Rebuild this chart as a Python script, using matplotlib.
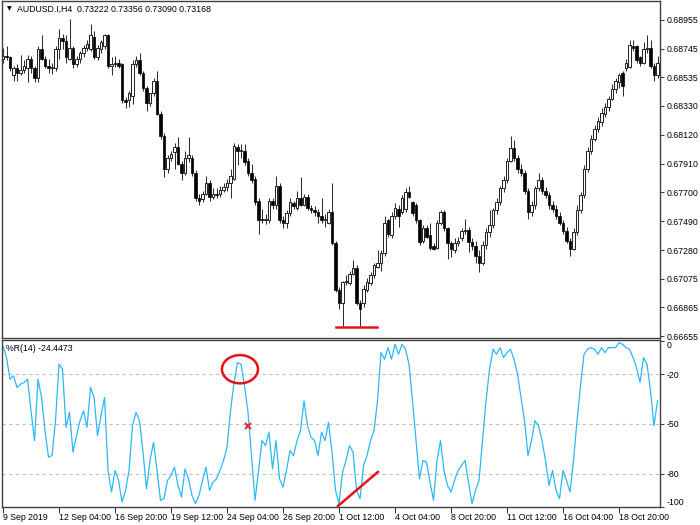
import numpy as np
import matplotlib.pyplot as plt
from matplotlib.patches import Ellipse

plt.rcParams['font.family'] = ['Liberation Sans', 'DejaVu Sans']

# AUDUSD.I H4 bars, prices in 0.0001 units
open_pts = [6867, 6869, 6868, 6855, 6860, 6857, 6859, 6860, 6867, 6860,
            6853, 6874, 6867, 6862, 6860, 6860, 6874, 6882, 6880, 6867,
            6875, 6863, 6867, 6871, 6875, 6874, 6883, 6868, 6874, 6876,
            6884, 6862, 6863, 6864, 6863, 6837, 6837, 6840, 6863, 6866,
            6857, 6846, 6835, 6842, 6851, 6827, 6811, 6787, 6795, 6799,
            6803, 6791, 6784, 6795, 6795, 6784, 6766, 6765, 6769, 6777,
            6767, 6769, 6769, 6772, 6774, 6777, 6780, 6803, 6800, 6800,
            6793, 6784, 6780, 6764, 6751, 6750, 6750, 6764, 6761, 6775,
            6750, 6748, 6755, 6762, 6759, 6766, 6761, 6767, 6759, 6757,
            6756, 6753, 6750, 6748, 6756, 6733, 6699, 6690, 6705, 6704,
            6711, 6715, 6690, 6690, 6699, 6704, 6710, 6716, 6719, 6726,
            6750, 6739, 6753, 6758, 6756, 6758, 6770, 6763, 6761, 6750,
            6735, 6744, 6739, 6731, 6730, 6748, 6756, 6744, 6733, 6728,
            6733, 6737, 6742, 6743, 6734, 6731, 6724, 6719, 6732, 6741,
            6746, 6757, 6763, 6773, 6779, 6793, 6802, 6795, 6787, 6784,
            6771, 6756, 6761, 6773, 6779, 6771, 6768, 6761, 6758, 6753,
            6748, 6742, 6735, 6729, 6741, 6757, 6768, 6787, 6800, 6809,
            6816, 6821, 6827, 6832, 6838, 6845, 6850, 6857, 6860, 6861,
            6876, 6876, 6868, 6864, 6874, 6875, 6862, 6855]
high_pts = [6875, 6876, 6869, 6862, 6863, 6870, 6866, 6870, 6869, 6862,
            6876, 6884, 6869, 6867, 6864, 6876, 6889, 6885, 6884, 6896,
            6876, 6869, 6873, 6877, 6881, 6892, 6887, 6877, 6881, 6885,
            6885, 6868, 6869, 6867, 6864, 6839, 6844, 6866, 6869, 6871,
            6858, 6847, 6842, 6853, 6858, 6829, 6813, 6797, 6800, 6806,
            6810, 6793, 6800, 6810, 6797, 6786, 6769, 6771, 6782, 6779,
            6773, 6773, 6775, 6777, 6780, 6787, 6806, 6805, 6805, 6805,
            6795, 6791, 6782, 6766, 6758, 6754, 6766, 6766, 6782, 6777,
            6753, 6757, 6766, 6764, 6771, 6781, 6769, 6769, 6761, 6760,
            6758, 6766, 6754, 6758, 6777, 6735, 6701, 6706, 6710, 6713,
            6721, 6717, 6692, 6703, 6708, 6712, 6719, 6728, 6728, 6753,
            6751, 6756, 6762, 6761, 6768, 6773, 6775, 6764, 6762, 6751,
            6746, 6746, 6748, 6733, 6750, 6757, 6757, 6745, 6735, 6737,
            6738, 6744, 6751, 6745, 6737, 6735, 6728, 6735, 6744, 6757,
            6759, 6766, 6775, 6782, 6795, 6811, 6808, 6797, 6791, 6786,
            6773, 6764, 6775, 6784, 6781, 6774, 6770, 6764, 6761, 6756,
            6750, 6745, 6737, 6744, 6761, 6770, 6790, 6803, 6812, 6819,
            6825, 6831, 6835, 6840, 6849, 6853, 6857, 6858, 6867, 6881,
            6881, 6877, 6869, 6879, 6884, 6881, 6864, 6869]
low_pts = [6864, 6866, 6858, 6851, 6851, 6855, 6857, 6850, 6857, 6850,
           6850, 6866, 6860, 6857, 6856, 6858, 6867, 6874, 6864, 6866,
           6860, 6861, 6864, 6868, 6873, 6873, 6867, 6866, 6871, 6874,
           6860, 6855, 6861, 6860, 6835, 6831, 6832, 6834, 6861, 6855,
           6844, 6829, 6833, 6840, 6826, 6809, 6781, 6784, 6793, 6787,
           6790, 6779, 6783, 6792, 6782, 6764, 6761, 6763, 6768, 6764,
           6765, 6766, 6767, 6770, 6771, 6766, 6779, 6790, 6795, 6790,
           6782, 6777, 6761, 6740, 6748, 6747, 6748, 6758, 6758, 6748,
           6744, 6744, 6753, 6758, 6757, 6760, 6760, 6757, 6755, 6753,
           6748, 6748, 6745, 6747, 6732, 6698, 6685, 6672, 6703, 6703,
           6710, 6688, 6672, 6687, 6698, 6703, 6708, 6715, 6713, 6724,
           6738, 6737, 6751, 6745, 6754, 6756, 6766, 6753, 6748, 6732,
           6733, 6737, 6728, 6728, 6729, 6746, 6742, 6722, 6723, 6726,
           6731, 6735, 6740, 6727, 6728, 6719, 6712, 6717, 6729, 6738,
           6744, 6754, 6761, 6770, 6777, 6792, 6793, 6784, 6782, 6769,
           6751, 6753, 6758, 6771, 6769, 6766, 6758, 6756, 6751, 6746,
           6740, 6733, 6724, 6728, 6739, 6755, 6766, 6785, 6798, 6807,
           6814, 6818, 6825, 6829, 6837, 6842, 6846, 6840, 6858, 6860,
           6873, 6864, 6862, 6863, 6871, 6860, 6851, 6853]
close_pts = [6869, 6868, 6860, 6860, 6857, 6859, 6862, 6867, 6860, 6853,
             6874, 6867, 6862, 6860, 6861, 6874, 6882, 6880, 6868, 6875,
             6863, 6867, 6871, 6875, 6878, 6884, 6868, 6875, 6879, 6884,
             6862, 6863, 6864, 6862, 6837, 6836, 6842, 6863, 6866, 6857,
             6846, 6835, 6842, 6851, 6827, 6811, 6787, 6795, 6798, 6803,
             6791, 6784, 6795, 6797, 6784, 6766, 6764, 6769, 6777, 6767,
             6769, 6768, 6772, 6774, 6777, 6782, 6804, 6800, 6801, 6792,
             6784, 6779, 6763, 6750, 6750, 6751, 6764, 6761, 6775, 6750,
             6748, 6755, 6763, 6760, 6766, 6761, 6767, 6759, 6757, 6756,
             6753, 6750, 6751, 6756, 6733, 6699, 6690, 6705, 6706, 6711,
             6715, 6690, 6685, 6700, 6705, 6710, 6717, 6719, 6726, 6748,
             6740, 6753, 6759, 6753, 6766, 6770, 6767, 6755, 6750, 6734,
             6744, 6738, 6730, 6729, 6748, 6756, 6744, 6733, 6729, 6733,
             6735, 6742, 6743, 6734, 6731, 6724, 6719, 6732, 6741, 6746,
             6757, 6763, 6773, 6779, 6793, 6802, 6795, 6787, 6784, 6771,
             6756, 6761, 6773, 6779, 6771, 6768, 6761, 6758, 6753, 6748,
             6742, 6735, 6729, 6741, 6757, 6768, 6787, 6800, 6809, 6816,
             6822, 6828, 6832, 6838, 6845, 6851, 6855, 6847, 6864, 6877,
             6875, 6866, 6864, 6874, 6875, 6862, 6855, 6864]

# Williams %R(14) as drawn
wpr = [-3, -10, -23, -21, -28, -26, -25, -23, -42, -60,
       -23, -34, -54, -70, -69, -48, -14, -17, -52, -43,
       -67, -57, -48, -42, -52, -28, -34, -57, -45, -34,
       -78, -91, -78, -84, -97, -90, -78, -51, -43, -48,
       -67, -89, -72, -61, -78, -96, -95, -84, -81, -76,
       -87, -94, -77, -83, -93, -98, -93, -84, -76, -90,
       -85, -83, -78, -72, -64, -42, -25, -13, -14, -27,
       -43, -69, -96, -78, -60, -63, -55, -77, -60, -83,
       -88, -78, -66, -69, -60, -54, -36, -51, -58, -60,
       -69, -55, -60, -49, -67, -90, -98, -79, -72, -63,
       -67, -90, -95, -75, -69, -60, -54, -36, -7, -11,
       -4, -11, -2, -8, -2, -5, -14, -36, -60, -83,
       -72, -73, -85, -96, -72, -60, -78, -87, -91, -84,
       -78, -75, -72, -85, -98, -90, -84, -60, -36, -17,
       -5, -8, -4, -10, -7, -5, -11, -20, -34, -48,
       -69, -60, -48, -51, -60, -72, -87, -78, -90, -95,
       -78, -84, -91, -72, -48, -27, -8, -5, -4, -5,
       -8, -4, -7, -4, -4, -4, -1, -2, -4, -5,
       -10, -16, -25, -10, -14, -30, -51, -36]

date_pos = [0, 16, 32, 48, 64, 80, 96, 112, 128, 144, 160, 176]
date_labels = ['9 Sep 2019', '12 Sep 04:00', '16 Sep 20:00', '19 Sep 12:00',
               '24 Sep 04:00', '26 Sep 20:00', '1 Oct 12:00', '4 Oct 04:00',
               '8 Oct 20:00', '11 Oct 12:00', '16 Oct 04:00', '18 Oct 20:00']
price_ticks = [0.68955, 0.68745, 0.68535, 0.68330, 0.68120, 0.67910,
               0.67700, 0.67490, 0.67280, 0.67075, 0.66865, 0.66655]
wpr_ticks = [0, -20, -50, -80, -100]
wpr_levels = [-20, -50, -80]

o = np.array(open_pts) / 10000
h = np.array(high_pts) / 10000
l = np.array(low_pts) / 10000
c = np.array(close_pts) / 10000
x = np.arange(len(o))

W, H = 700, 525
fig = plt.figure(figsize=(7, 5.25), dpi=100)
ax1 = fig.add_axes([2 / W, 1 - 338 / H, 658 / W, 337 / H])
ax2 = fig.add_axes([2 / W, 1 - 507 / H, 658 / W, 167 / H])

fs = 6.3
frame = '#404040'

# candles
up = c >= o
bottom = np.minimum(o, c)
body = np.maximum(np.abs(c - o), 0.00002)
ax1.vlines(x, l, h, color='#303030', lw=0.75, zorder=1)
ax1.bar(x[up], body[up], 0.72, bottom=bottom[up], facecolor='white',
        edgecolor='#202020', lw=0.7, zorder=2)
ax1.bar(x[~up], body[~up], 0.72, bottom=bottom[~up], facecolor='black',
        edgecolor='black', lw=0.5, zorder=2)

# red support line under the lows
ax1.plot([95.1, 106.9], [0.6672, 0.6672], color='#e8101a', lw=1.8, zorder=3)

ax1.set_xlim(-0.29, 187.71)
ax1.set_ylim(0.66643, 0.6909)
ax1.set_xticks([])
ax1.yaxis.tick_right()
ax1.set_yticks(price_ticks)
ax1.set_yticklabels(['%.5f' % p for p in price_ticks])
ax1.tick_params(axis='y', length=3, width=0.8, color=frame, labelsize=fs, pad=2)

fig.text(9 / W, 1 - 9 / H, '\u25bc', fontsize=4.5, ha='center', va='center',
         family='DejaVu Sans')
fig.text(17 / W, 1 - 9 / H, 'AUDUSD.I,H4  0.73222 0.73356 0.73090 0.73168',
         fontsize=fs, ha='left', va='center')

# Williams %R panel
for v in wpr_levels:
    ax2.axhline(v, color='#c0c0c0', lw=0.8, ls=(0, (3, 3)), zorder=0)
ax2.plot(x, wpr, color='#2cb8f5', lw=0.9, zorder=2)

ax2.add_patch(Ellipse((67.7, -17), 10.3, 17, fill=False, color='#e8101a', lw=1.8, zorder=3))
ax2.plot([70], [-51], marker='x', ms=4.5, mew=1.5, color='#e0304a', zorder=3)
ax2.plot([95.7, 107.1], [-99.4, -78.9], color='#e8101a', lw=1.8, zorder=3)

ax2.set_xlim(-0.29, 187.71)
ax2.set_ylim(-100, 0.6)
ax2.yaxis.tick_right()
ax2.set_yticks(wpr_ticks)
ax2.set_yticklabels([str(v) for v in wpr_ticks])
ax2.get_yticklabels()[0].set_va('top')
ax2.get_yticklabels()[-1].set_va('bottom')
ax2.tick_params(axis='y', length=3, width=0.8, color=frame, labelsize=fs, pad=2)
ax2.set_xticks(date_pos)
ax2.set_xticklabels(date_labels, ha='left')
ax2.tick_params(axis='x', length=4, width=0.8, color=frame, labelsize=fs, pad=0)

ax2.text(0.006, 0.975, '%R(14) -24.4473', transform=ax2.transAxes,
         fontsize=fs, ha='left', va='top')

for ax in (ax1, ax2):
    for s in ax.spines.values():
        s.set_color(frame)
        s.set_linewidth(1.0)

fig.savefig('out.png', dpi=100)
